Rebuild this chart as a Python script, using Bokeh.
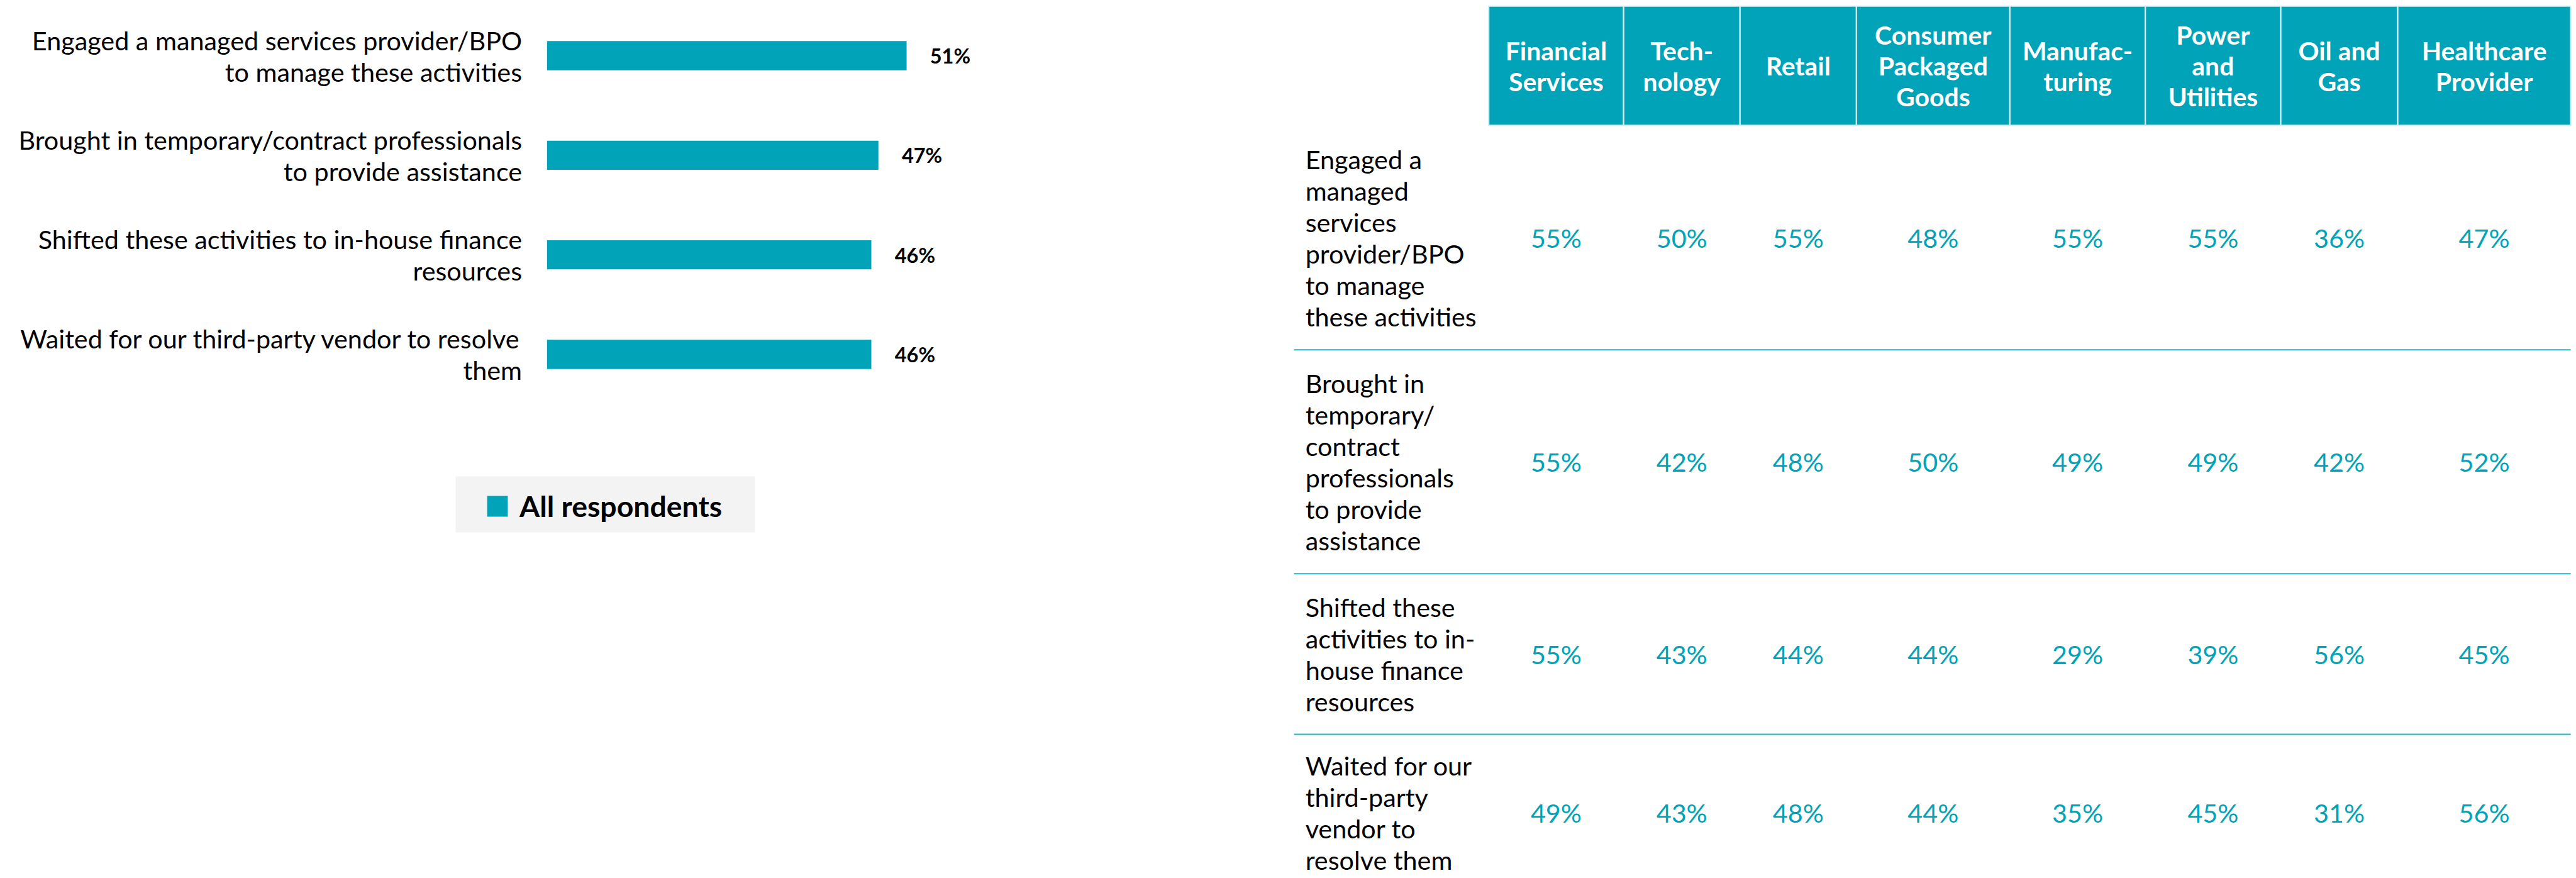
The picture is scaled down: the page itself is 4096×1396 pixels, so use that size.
from bokeh.plotting import figure
from bokeh.models import Range1d, Legend, LegendItem, BoxAnnotation, ColumnDataSource
from bokeh.core.properties import value
from bokeh.embed import file_html
from bokeh.resources import INLINE

# ---------------- data ----------------
bar_categories = [
    "Engaged a managed services provider/BPO\nto manage these activities",
    "Brought in temporary/contract professionals\nto provide assistance",
    "Shifted these activities to in-house finance\nresources",
    "Waited for our third-party vendor to resolve\nthem",
]
bar_values = [51, 47, 46, 46]
series_name = "All respondents"

industries = [
    "Financial\nServices", "Tech-\nnology", "Retail", "Consumer\nPackaged\nGoods",
    "Manufac-\nturing", "Power\nand\nUtilities", "Oil and\nGas", "Healthcare\nProvider",
]
table_rows = [
    "Engaged a\nmanaged\nservices\nprovider/BPO\nto manage\nthese activities",
    "Brought in\ntemporary/\ncontract\nprofessionals\nto provide\nassistance",
    "Shifted these\nactivities to in-\nhouse finance\nresources",
    "Waited for our\nthird-party\nvendor to\nresolve them",
]
financial_services = [55, 55, 55, 49]
technology = [50, 42, 43, 43]
retail = [55, 48, 44, 48]
consumer_packaged_goods = [48, 50, 44, 44]
manufacturing = [55, 49, 29, 35]
power_utilities = [55, 49, 39, 45]
oil_gas = [36, 42, 56, 31]
healthcare_provider = [47, 52, 45, 56]
table_columns = [financial_services, technology, retail, consumer_packaged_goods,
                 manufacturing, power_utilities, oil_gas, healthcare_provider]

# ---------------- layout / style ----------------
S = 0.865
TEAL = "#00a3b8"
FONT = "Lato"

def px(v):
    return value(f"{v * S:.1f}px")

# table geometry in reference pixels
col_edges = [2736, 2984, 3198, 3412, 3694, 3943, 4192, 4407, 4725]
header_top, header_bottom = 10.7, 230
row_edges = [230, 642.5, 1054, 1349, 1638]
row_line_x0 = 2378
row_label_x = 2399

# bar chart geometry (reference pixels)
bar_zero_x = 1005
px_per_pct = 12.96
bar_first_y = 101.8
bar_step = 183.0
bar_height_frac = 0.293

W, H = 4096, 1396
x0_ref, x1_ref = 0.0, W / S
y0_ref, y1_ref = 0.0, H / S

p = figure(width=W, height=H, x_range=Range1d(x0_ref, x1_ref), y_range=Range1d(y1_ref, y0_ref),
           output_backend="svg", toolbar_location=None, min_border=0,
           x_axis_location=None, y_axis_location=None, outline_line_color=None)
p.grid.visible = False
p.background_fill_color = "white"

p.extra_x_ranges = {"pct": Range1d((x0_ref - bar_zero_x) / px_per_pct, (x1_ref - bar_zero_x) / px_per_pct)}
p.extra_y_ranges = {"cat": Range1d((y1_ref - bar_first_y) / bar_step, (y0_ref - bar_first_y) / bar_step)}

# ---------------- bar chart ----------------
idx = list(range(len(bar_categories)))
bsrc = ColumnDataSource(dict(y=idx, v=bar_values, lab=[f"{v}%" for v in bar_values],
                             cat=bar_categories, zero=[0] * len(idx)))
bars = p.hbar(y="y", left="zero", right="v", height=bar_height_frac, source=bsrc,
              x_range_name="pct", y_range_name="cat", fill_color=TEAL, line_color=None)
p.text(x="v", y="y", text="lab", source=bsrc, x_range_name="pct", y_range_name="cat",
       x_offset=43 * S, text_align="left", text_baseline="middle",
       text_font=value(FONT), text_font_style="bold", text_font_size=px(37.6), text_color="black")
p.text(x="zero", y="y", text="cat", source=bsrc, x_range_name="pct", y_range_name="cat",
       x_offset=-46 * S, text_align="right", text_baseline="middle", text_line_height=1.0,
       text_font=value(FONT), text_font_size=px(47.8), text_color="black")

# legend
box = BoxAnnotation(left=837, right=1387, top=875, bottom=978, fill_color="#f3f3f3",
                    fill_alpha=1, line_color=None, level="underlay")
p.add_layout(box)
legend_font = 53.6 * S
legend = Legend(items=[LegendItem(label=series_name, renderers=[bars])],
                location=(895 * S - 4.1, H - 930 * S - 0.6 * legend_font),
                margin=0, padding=0, glyph_width=41, glyph_height=41,
                label_standoff=15, label_text_font=FONT, label_text_font_style="bold",
                label_text_font_size=f"{legend_font:.1f}px", label_text_color="black",
                background_fill_alpha=0, border_line_color=None)
p.add_layout(legend)

# ---------------- table ----------------
lefts = col_edges[:-1]
rights = col_edges[1:]
centers = [(a + b) / 2 for a, b in zip(lefts, rights)]
p.quad(left=lefts, right=rights, top=[header_top] * len(lefts), bottom=[header_bottom] * len(lefts),
       fill_color=TEAL, line_color="#d2eff3", line_width=2.2)
p.text(x=centers, y=[(header_top + header_bottom) / 2] * len(centers), text=industries,
       text_align="center", text_baseline="middle", text_line_height=1.0,
       text_font=value(FONT), text_font_style="bold", text_font_size=px(47.3), text_color="white")

sep_y = row_edges[1:-1]
p.segment(x0=[row_line_x0] * len(sep_y), x1=[col_edges[-1]] * len(sep_y), y0=sep_y, y1=sep_y,
          line_color=TEAL, line_width=2, line_alpha=0.85)

row_centers = [(a + b) / 2 for a, b in zip(row_edges[:-1], row_edges[1:])]
p.text(x=[row_label_x] * len(table_rows), y=row_centers, text=table_rows,
       text_align="left", text_baseline="middle", text_line_height=1.0,
       text_font=value(FONT), text_font_size=px(47.8), text_color="black")

vx, vy, vt = [], [], []
for ci, col in enumerate(table_columns):
    for ri, v in enumerate(col):
        vx.append(centers[ci])
        vy.append(row_centers[ri])
        vt.append(f"{v}%")
p.text(x=vx, y=vy, text=vt, text_align="center", text_baseline="middle",
       text_font=value(FONT), text_font_size=px(47.8), text_color=TEAL)

open("out.html", "w").write(file_html(p, INLINE))
